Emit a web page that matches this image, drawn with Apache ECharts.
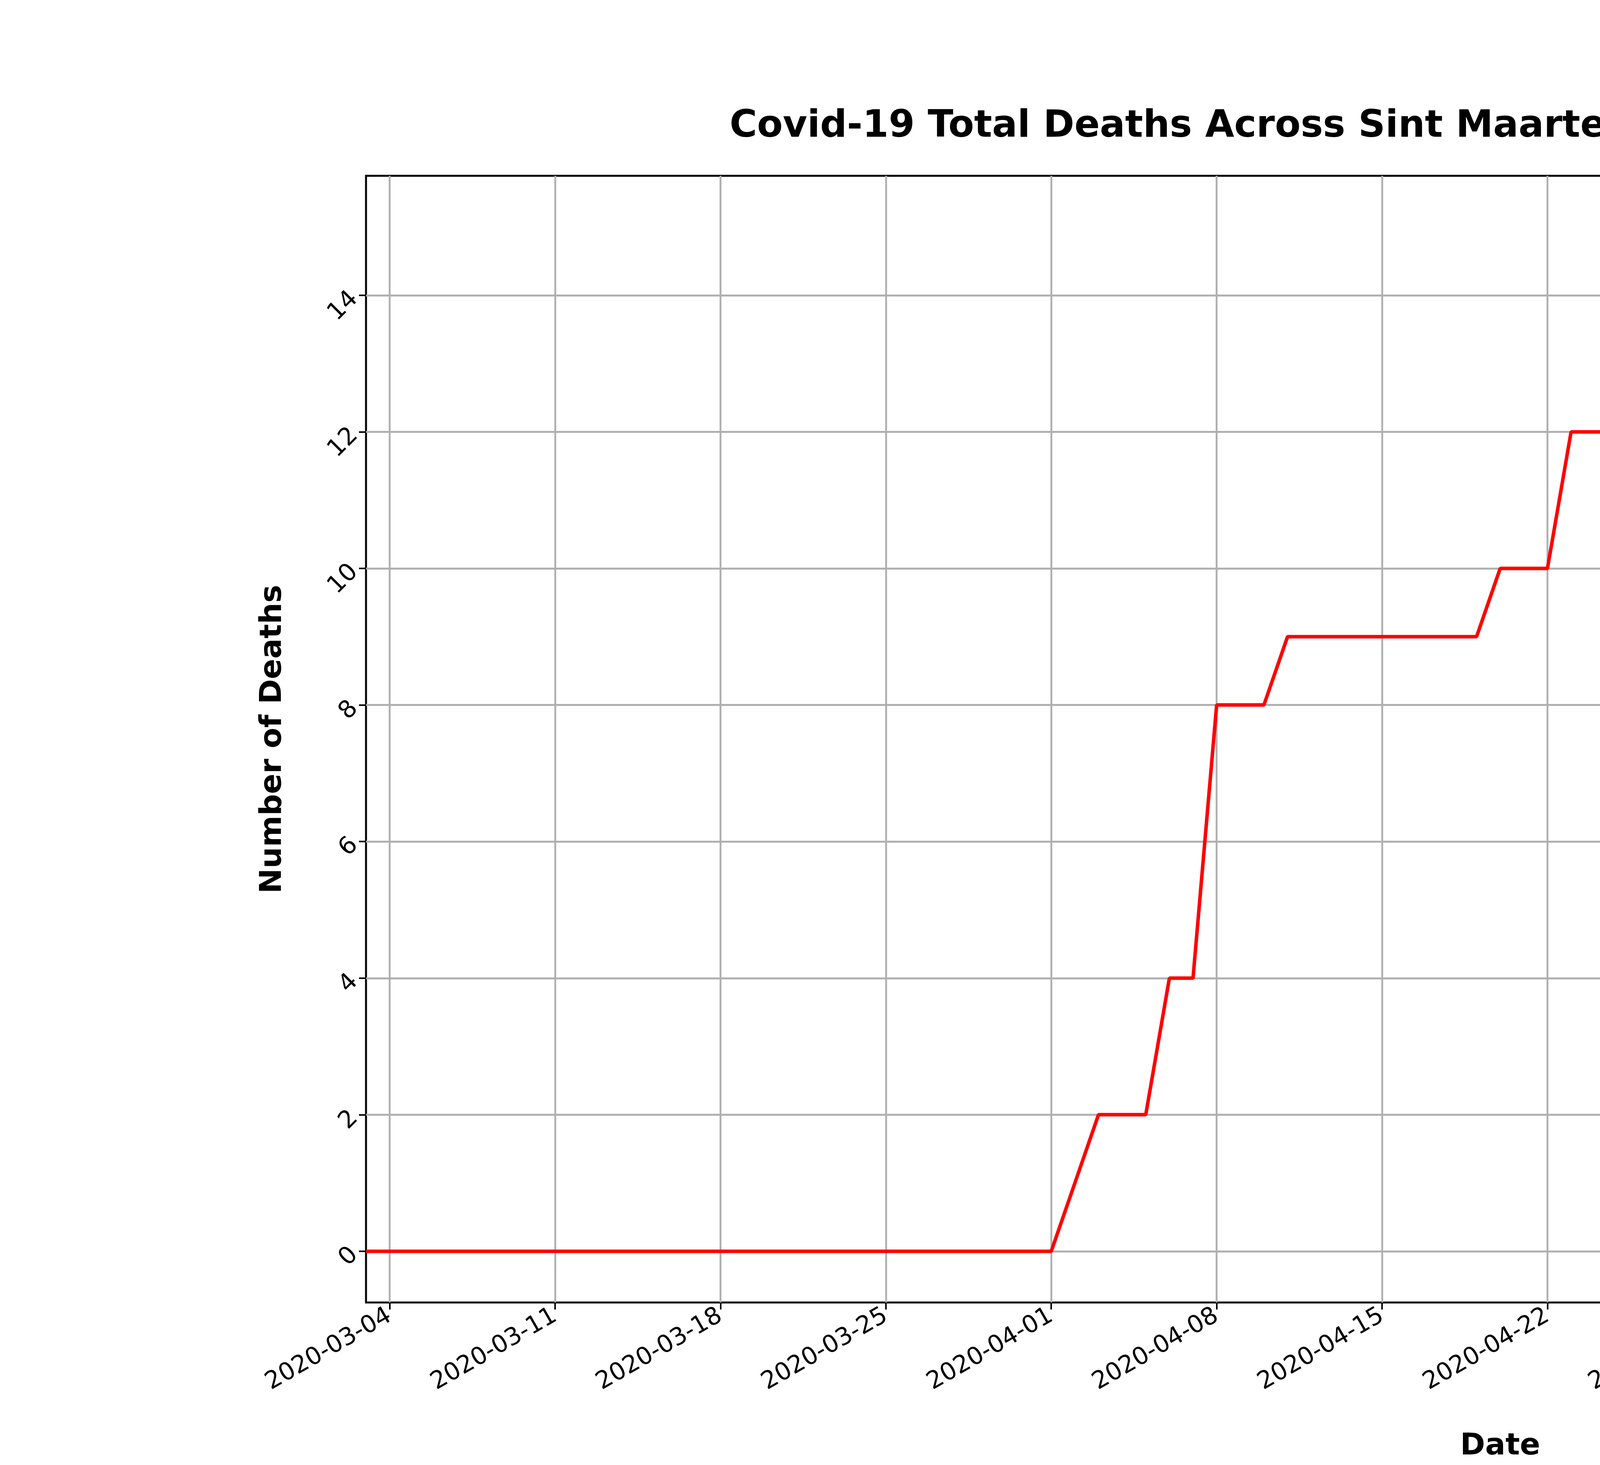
<!DOCTYPE html>
<html>
<head>
<meta charset="utf-8">
<script src="https://cdn.jsdelivr.net/npm/echarts@6/dist/echarts.min.js"></script>
<style>html,body{margin:0;background:#fff}#chart{width:7500px;height:3750px}</style>
</head>
<body>
<div id="chart"></div>
<script>
// dates 2020-03-03 .. 2020-06-07
const startDate = new Date(Date.UTC(2020, 2, 3))
const dayCount = 97
const dates = []
for (let i = 0; i < dayCount; i++) {
  const d = new Date(startDate.getTime() + i * 86400000)
  dates.push(d.toISOString().slice(0, 10))
}
// value changes: [date, total deaths]
const steps = [
  ['2020-03-03', 0], ['2020-04-02', 1], ['2020-04-03', 2], ['2020-04-06', 4],
  ['2020-04-08', 8], ['2020-04-11', 9], ['2020-04-20', 10], ['2020-04-23', 12],
  ['2020-04-27', 13], ['2020-05-06', 14], ['2020-05-09', 15]
]
const deaths = []
let cur = 0, si = 0
dates.forEach(d => {
  while (si < steps.length && steps[si][0] <= d) { cur = steps[si][1]; si++ }
  deaths.push(cur)
})
const yTicks = [0, 2, 4, 6, 8, 10, 12, 14]

const showTick = (i) => (i - 1) % 7 === 0

const chart = echarts.init(document.getElementById('chart'))
chart.setOption({
  animation: false,
  backgroundColor: '#fff',
  title: {
    text: 'Covid-19 Total Deaths Across Sint Maarten (Dutch Part) as of 2020-06-07',
    left: 3840, top: 272, textAlign: 'center',
    textStyle: { fontSize: 96, fontWeight: 'bold', color: '#000', fontFamily: 'DejaVu Sans' }
  },
  grid: { left: 937, right: 756, top: 450, bottom: 416, show: true, borderColor: '#000', borderWidth: 5 },
  xAxis: {
    type: 'category', data: dates, boundaryGap: false,
    name: 'Date', nameLocation: 'middle', nameGap: 330,
    nameTextStyle: { fontSize: 77, fontWeight: 'bold', color: '#000', fontFamily: 'DejaVu Sans' },
    axisLine: { show: false, onZero: false },
    axisTick: { show: true, length: 18, interval: showTick, lineStyle: { color: '#000', width: 4 } },
    axisLabel: { interval: showTick, rotate: 30, fontSize: 62, color: '#000', margin: 30, fontFamily: 'DejaVu Sans' },
    splitLine: { show: true, interval: showTick, lineStyle: { color: '#b0b0b0', width: 4.8 } }
  },
  yAxis: {
    type: 'value', min: -0.75, max: 15.75,
    name: 'Number of Deaths', nameLocation: 'middle', nameGap: 200,
    nameTextStyle: { fontSize: 77, fontWeight: 'bold', color: '#000', fontFamily: 'DejaVu Sans' },
    axisLine: { show: false, onZero: false },
    axisTick: { show: true, length: 18, customValues: yTicks, lineStyle: { color: '#000', width: 4 } },
    axisLabel: { customValues: yTicks, rotate: 45, fontSize: 62, color: '#000', margin: 30, fontFamily: 'DejaVu Sans' },
    splitLine: { show: true, lineStyle: { color: '#b0b0b0', width: 4.8 } }
  },
  series: [{
    type: 'line', data: deaths, showSymbol: false, symbol: 'none',
    lineStyle: { color: '#ff0000', width: 9 }
  }],
  graphic: [
    { type: 'text', left: 6687, top: 180,
      style: { text: '2020-06-07: 15\nTotal Deaths', fontSize: 62, lineHeight: 74, fill: '#000', fontFamily: 'DejaVu Sans' } },
    { type: 'line', shape: { x1: 6897, y1: 354, x2: 6775, y2: 540 }, style: { stroke: '#000', lineWidth: 11 } },
    { type: 'polygon', shape: { points: [[6758, 566], [6760, 510], [6800, 536]] }, style: { fill: '#000' } }
  ]
})
</script>
</body>
</html>
